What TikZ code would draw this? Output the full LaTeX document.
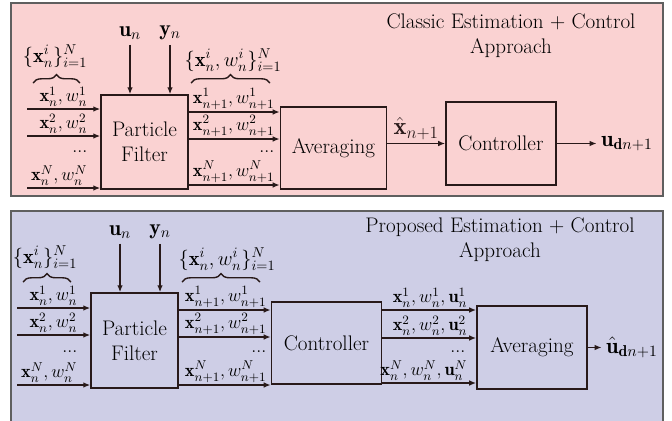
\RequirePackage{fix-cm}
\documentclass[tikz,border=0pt]{standalone}
\usepackage{fontspec}
\usetikzlibrary{arrows.meta,positioning,calc,decorations.pathreplacing}

\definecolor{classicbg}{RGB}{250,210,210}
\definecolor{proposedbg}{RGB}{206,206,230}
\definecolor{panelline}{RGB}{95,95,95}
\definecolor{ink}{RGB}{40,25,25}

\begin{document}
\begin{tikzpicture}[
    x=0.025cm, y=-0.025cm,
    font=\fontsize{15}{17.7}\selectfont,
    block/.style={rectangle, draw=ink, line width=1pt, inner sep=2pt, align=center},
    arrow/.style={-{Latex[length=5pt,width=4pt]}, line width=1pt, ink},
    lbl/.style={inner sep=1pt, anchor=south east, font=\fontsize{13}{15}\selectfont},
    setlbl/.style={font=\fontsize{14.5}{16}\selectfont},
    sig/.style={font=\fontsize{15.5}{17}\selectfont},
    brace/.style={decorate, decoration={brace, amplitude=6pt}, line width=1pt, ink},
    panel/.style={draw=panelline, line width=0.8pt},
    title/.style={align=center, font=\fontsize{15}{17.7}\selectfont}
]
    \useasboundingbox (0,0) rectangle (672,421);

    % classic approach
    \fill[classicbg] (11,3) rectangle (663,196);
    \draw[panel] (11,3) rectangle (663,196);
    \node[title] (titleA) at (511,36) {Classic Estimation + Control\\Approach};

    \node[block, minimum width=2.175cm, minimum height=2.35cm] (pfA) at (144.5,142) {Particle\\Filter};
    \node[block, minimum width=2.65cm, minimum height=2.05cm, right=2.275cm of pfA, yshift=-0.15cm] (avgA) {Averaging};
    \node[block, minimum width=2.75cm, minimum height=2.075cm, right=1.45cm of avgA, yshift=0.1125cm] (ctrlA) {Controller};
    \node[right=1.0cm of ctrlA, inner sep=3pt, font=\fontsize{16}{18}\selectfont] (udA) {$\mathbf{u}_{\mathbf{d}n+1}$};

    \node[sig] (unA) at (130,33) {$\mathbf{u}_n$};
    \node[sig] (ynA) at (170,33) {$\mathbf{y}_n$};
    \draw[arrow] (unA) -- (unA |- pfA.north);
    \draw[arrow] (ynA) -- (ynA |- pfA.north);

    \foreach \yy [count=\i] in {109,136,188} {
        \coordinate (inA\i) at (27,\yy);
        \draw[arrow] (inA\i) -- (inA\i -| pfA.west);
    }
    \foreach \yy [count=\i] in {112,139,185} {
        \coordinate (outA\i) at (pfA.east |- 0,\yy);
        \draw[arrow] (outA\i) -- (outA\i -| avgA.west);
    }

    \node[lbl] (lA1) at (89,108) {$\mathbf{x}_n^1, w_n^1$};
    \node[lbl] (lA2) at (89,135) {$\mathbf{x}_n^2, w_n^2$};
    \node[lbl] (dA) at (89,154) {...};
    \node[lbl] (lAN) at (89,187) {$\mathbf{x}_n^N, w_n^N$};
    \draw[brace] (33,83) -- (80,83);
    \node[setlbl] (setA) at (55,56) {$\{\mathbf{x}_n^i\}_{i=1}^N$};

    \node[lbl] (rA1) at (276,111) {$\mathbf{x}_{n+1}^1, w_{n+1}^1$};
    \node[lbl] (rA2) at (276,138) {$\mathbf{x}_{n+1}^2, w_{n+1}^2$};
    \node[lbl] (eA) at (276,154) {...};
    \node[lbl] (rAN) at (276,184) {$\mathbf{x}_{n+1}^N, w_{n+1}^N$};
    \draw[brace] (191,83) -- (270,83);
    \node[setlbl] (setwA) at (233,60) {$\{\mathbf{x}_n^i, w_n^i\}_{i=1}^N$};

    \draw[arrow] (avgA.east |- ctrlA) -- node[above, font=\fontsize{17.5}{19}\selectfont, inner sep=2pt] {$\hat{\mathbf{x}}_{n+1}$} (ctrlA.west);
    \draw[arrow] (ctrlA) -- (udA);

    % proposed approach
    \fill[proposedbg] (11,211) rectangle (663,421);
    \draw[panel] (11,421) -- (11,211) -- (663,211) -- (663,421);
    \node[title] (titleB) at (500,240) {Proposed Estimation + Control\\Approach};

    \node[block, minimum width=2.175cm, minimum height=2.375cm] (pfB) at (134.5,340.5) {Particle\\Filter};
    \node[block, minimum width=2.75cm, minimum height=2.05cm, right=2.3cm of pfB, yshift=-0.0625cm] (ctrlB) {Controller};
    \node[block, minimum width=2.75cm, minimum height=2.075cm, right=2.35cm of ctrlB, yshift=-0.1125cm] (avgB) {Averaging};
    \node[right=0.35cm of avgB, inner sep=3pt, font=\fontsize{16}{18}\selectfont] (udB) {$\hat{\mathbf{u}}_{\mathbf{d}n+1}$};

    \node[sig] (unB) at (120,232) {$\mathbf{u}_n$};
    \node[sig] (ynB) at (160,232) {$\mathbf{y}_n$};
    \draw[arrow] (unB) -- (unB |- pfB.north);
    \draw[arrow] (ynB) -- (ynB |- pfB.north);

    \foreach \yy [count=\i] in {308,335,385} {
        \coordinate (inB\i) at (17,\yy);
        \draw[arrow] (inB\i) -- (inB\i -| pfB.west);
    }
    \foreach \yy [count=\i] in {310,337,385} {
        \coordinate (outB\i) at (pfB.east |- 0,\yy);
        \draw[arrow] (outB\i) -- (outB\i -| ctrlB.west);
    }
    \foreach \yy [count=\i] in {310,338,383} {
        \coordinate (ctlB\i) at (ctrlB.east |- 0,\yy);
        \draw[arrow] (ctlB\i) -- (ctlB\i -| avgB.west);
    }

    \node[lbl] (lB1) at (79,307) {$\mathbf{x}_n^1, w_n^1$};
    \node[lbl] (lB2) at (79,334) {$\mathbf{x}_n^2, w_n^2$};
    \node[lbl] (dB) at (79,354) {...};
    \node[lbl] (lBN) at (79,384) {$\mathbf{x}_n^N, w_n^N$};
    \draw[brace] (23,282) -- (71,282);
    \node[setlbl] (setB) at (45,257) {$\{\mathbf{x}_n^i\}_{i=1}^N$};

    \node[lbl] (rB1) at (268,309) {$\mathbf{x}_{n+1}^1, w_{n+1}^1$};
    \node[lbl] (rB2) at (268,336) {$\mathbf{x}_{n+1}^2, w_{n+1}^2$};
    \node[lbl] (eB) at (268,354) {...};
    \node[lbl] (rBN) at (268,384) {$\mathbf{x}_{n+1}^N, w_{n+1}^N$};
    \draw[brace] (182,282) -- (260,282);
    \node[setlbl] (setwB) at (227,259) {$\{\mathbf{x}_n^i, w_n^i\}_{i=1}^N$};

    \node[lbl] (cB1) at (469,309) {$\mathbf{x}_n^1, w_n^1, \mathbf{u}_n^1$};
    \node[lbl] (cB2) at (469,337) {$\mathbf{x}_n^2, w_n^2, \mathbf{u}_n^2$};
    \node[lbl] (fB) at (467,354) {...};
    \node[lbl] (cBN) at (469,382) {$\mathbf{x}_n^N, w_n^N, \mathbf{u}_n^N$};

    \draw[arrow] (avgB) -- (udB);
\end{tikzpicture}
\end{document}
